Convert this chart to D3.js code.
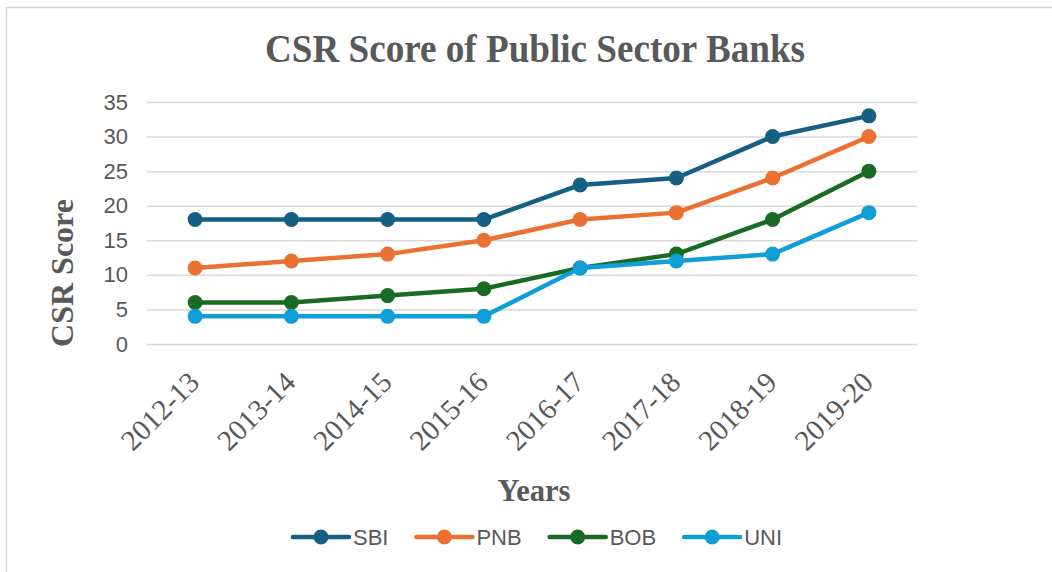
<!DOCTYPE html>
<html>
<head>
<meta charset="utf-8">
<script src="https://cdn.jsdelivr.net/npm/d3@7"></script>
<style>
  body { margin: 0; background: #fff; }
  svg { display: block; }
</style>
</head>
<body>
<div id="chart"></div>
<script>
var width = 1052
var height = 572
var plot = {left: 147, right: 917, top: 102, bottom: 344}

// chart data
var years = ["2012-13","2013-14","2014-15","2015-16","2016-17","2017-18","2018-19","2019-20"]
var seriesNames = ["SBI","PNB","BOB","UNI"]
var sbi = [18,18,18,18,23,24,30,33]
var pnb = [11,12,13,15,18,19,24,30]
var bob = [6,6,7,8,11,13,18,25]
var uni = [4,4,4,4,11,12,13,19]
var yTicks = [0,5,10,15,20,25,30,35]
var colors = ["#156082","#E97132","#196B24","#0F9ED5"]

var textColor = "#595959"
var series = [sbi, pnb, bob, uni].map(function(v, i) {
  return {name: seriesNames[i], values: v, color: colors[i]}
})

var svg = d3.select('#chart')
  .append('svg')
  .attr('width', width)
  .attr('height', height);

// outer border
svg.append('rect')
  .attr('x', 6.5).attr('y', 7.5)
  .attr('width', width + 10).attr('height', height + 10)
  .attr('fill', 'none')
  .attr('stroke', '#d9d9d9')
  .attr('stroke-width', 1.5);

var x = d3.scalePoint().domain(years).range([plot.left, plot.right]).padding(0.5);
var y = d3.scaleLinear().domain([0, 35]).range([plot.bottom, plot.top]);

// gridlines + y labels
var yAxis = d3.axisLeft(y).tickValues(yTicks).tickSize(-(plot.right - plot.left)).tickPadding(19);
var gy = svg.append('g')
  .attr('transform', 'translate(' + plot.left + ',0)')
  .call(yAxis);
gy.select('.domain').remove();
gy.selectAll('line').attr('stroke', '#d9d9d9').attr('stroke-width', 1.5);
gy.selectAll('text')
  .attr('fill', textColor)
  .style('font-family', 'Liberation Sans, Arial, sans-serif')
  .style('font-size', '22px');

// x labels, rotated
svg.append('g')
  .selectAll('text')
  .data(years)
  .enter()
  .append('text')
  .attr('transform', function(d) { return 'translate(' + (x(d) + 6) + ',384) rotate(-45)' })
  .attr('text-anchor', 'end')
  .attr('fill', textColor)
  .style('font-family', 'Liberation Serif, Times New Roman, serif')
  .style('font-size', '29px')
  .text(function(d) { return d });

// lines
var line = d3.line()
  .x(function(d, i) { return x(years[i]) })
  .y(function(d) { return y(d) });

var groups = svg.selectAll('.series')
  .data(series)
  .enter()
  .append('g')
  .attr('class', 'series');

groups.append('path')
  .attr('d', function(d) { return line(d.values) })
  .attr('fill', 'none')
  .attr('stroke', function(d) { return d.color })
  .attr('stroke-width', 4.5)
  .attr('stroke-linejoin', 'round')
  .attr('stroke-linecap', 'round');

groups.selectAll('circle')
  .data(function(d) { return d.values.map(function(v, i) { return {v: v, i: i, color: d.color} }) })
  .enter()
  .append('circle')
  .attr('cx', function(d) { return x(years[d.i]) })
  .attr('cy', function(d) { return y(d.v) })
  .attr('r', 7.5)
  .attr('fill', function(d) { return d.color });

// title
svg.append('text')
  .attr('x', 535).attr('y', 62)
  .attr('text-anchor', 'middle')
  .attr('fill', textColor)
  .attr('textLength', 540)
  .attr('lengthAdjust', 'spacingAndGlyphs')
  .style('font-family', 'Liberation Serif, Times New Roman, serif')
  .style('font-weight', 'bold')
  .style('font-size', '40px')
  .text('CSR Score of Public Sector Banks');

// axis titles
svg.append('text')
  .attr('transform', 'translate(73,273) rotate(-90)')
  .attr('text-anchor', 'middle')
  .attr('fill', textColor)
  .style('font-family', 'Liberation Serif, Times New Roman, serif')
  .style('font-weight', 'bold')
  .style('font-size', '32px')
  .text('CSR Score');

svg.append('text')
  .attr('x', 534).attr('y', 501)
  .attr('text-anchor', 'middle')
  .attr('fill', textColor)
  .attr('textLength', 73)
  .attr('lengthAdjust', 'spacingAndGlyphs')
  .style('font-family', 'Liberation Serif, Times New Roman, serif')
  .style('font-weight', 'bold')
  .style('font-size', '32px')
  .text('Years');

// legend
var legendY = 537
var legend = svg.append('g');
var items = legend.selectAll('g')
  .data(series)
  .enter()
  .append('g');

items.append('line')
  .attr('x1', 0).attr('x2', 56)
  .attr('y1', legendY).attr('y2', legendY)
  .attr('stroke', function(d) { return d.color })
  .attr('stroke-width', 4.5)
  .attr('stroke-linecap', 'round');
items.append('circle')
  .attr('cx', 28).attr('cy', legendY).attr('r', 7.5)
  .attr('fill', function(d) { return d.color });
items.append('text')
  .attr('x', 60).attr('y', legendY + 8)
  .attr('fill', textColor)
  .style('font-family', 'Liberation Sans, Arial, sans-serif')
  .style('font-size', '22px')
  .text(function(d) { return d.name });

var pos = 0
var gap = 28
items.each(function() {
  var g = d3.select(this)
  g.attr('transform', 'translate(' + pos + ',0)')
  pos += 60 + g.select('text').node().getComputedTextLength() + gap
})
var total = pos - gap
legend.attr('transform', 'translate(' + (537.5 - total / 2) + ',0)');
</script>
</body>
</html>
